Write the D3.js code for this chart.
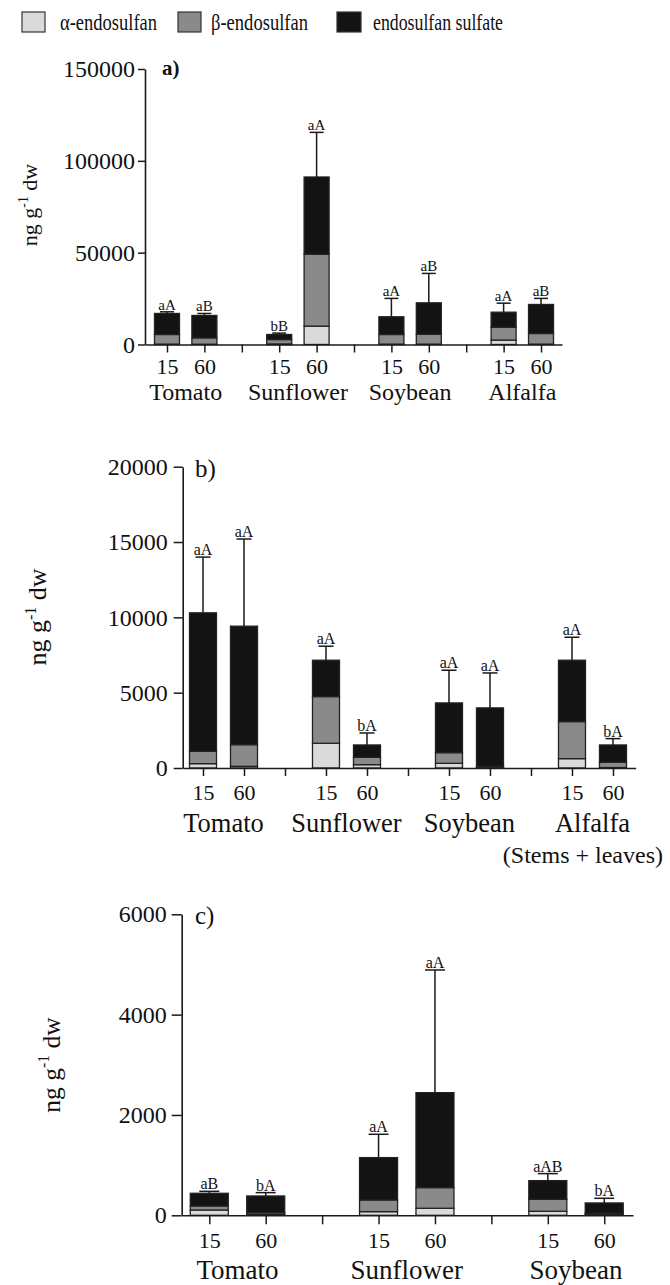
<!DOCTYPE html>
<html><head><meta charset="utf-8">
<script src="https://cdn.jsdelivr.net/npm/d3@7"></script>
<style>
body{margin:0;background:#fff}
svg{display:block}
text{font-family:"Liberation Serif","Times New Roman",serif;fill:#111}
</style>
</head><body>
<svg id="chart" width="670" height="1285"></svg>
<script>
// ---------- data ----------
const seriesKeys = ["alpha", "beta", "sulfate"];
const seriesLabels = ["α-endosulfan", "β-endosulfan", "endosulfan sulfate"];
const seriesColors = ["#dadada", "#8a8a8a", "#131313"];
const days = ["15", "60"];

// Panel a
const categoriesA = ["Tomato", "Sunflower", "Soybean", "Alfalfa"];
const alphaA   = [200, 150, 300, 10000, 200, 200, 2400, 200];
const betaA    = [5250, 3450, 2400, 39200, 5250, 5400, 7000, 5800];
const sulfateA = [11450, 12200, 2750, 42000, 9650, 17100, 8200, 15800];
const sdA      = [900, 1100, 750, 24300, 10000, 16000, 4900, 3300];
const lettersA = ["aA", "aB", "bB", "aA", "aA", "aB", "aA", "aB"];
const yTicksA  = [0, 50000, 100000, 150000];

// Panel b
const categoriesB = ["Tomato", "Sunflower", "Soybean", "Alfalfa"];
const alphaB   = [288, 110, 1640, 220, 310, 50, 620, 30];
const betaB    = [820, 1440, 3100, 490, 710, 60, 2460, 346];
const sulfateB = [9192, 7864, 2415, 820, 3300, 3880, 4075, 1154];
const sdB      = [3700, 5786, 930, 795, 2170, 2320, 1525, 420];
const lettersB = ["aA", "aA", "aA", "bA", "aA", "aA", "aA", "bA"];
const yTicksB  = [0, 5000, 10000, 15000, 20000];

// Panel c
const categoriesC = ["Tomato", "Sunflower", "Soybean"];
const alphaC   = [106, 20, 73, 140, 80, 27];
const betaC    = [80, 33, 233, 412, 239, 13];
const sulfateC = [253, 332, 844, 1893, 372, 206];
const sdC      = [39, 67, 465, 2445, 140, 93];
const lettersC = ["aB", "bA", "aA", "aA", "aAB", "bA"];
const yTicksC  = [0, 2000, 4000, 6000];

const panelLabels = ["a)", "b)", "c)"];
const yAxisTitle = "ng g";
const yAxisSup = "-1";
const yAxisTail = " dw";
const noteB = "(Stems + leaves)";

// ---------- drawing ----------
const svg = d3.select("#chart");
const ink = "#1a1a1a";

// legend
const legendLayout = [
  {bx: 22, tx: 60, tw: 97, bw: 23},
  {bx: 178, tx: 211, tw: 97, bw: 23},
  {bx: 337, tx: 373, tw: 130, bw: 24}
];
const lg = svg.append("g");
seriesLabels.forEach((lab, i) => {
  const L = legendLayout[i];
  lg.append("rect").attr("x", L.bx).attr("y", 12).attr("width", L.bw).attr("height", 20)
    .attr("fill", seriesColors[i]).attr("stroke", "#333").attr("stroke-width", 1.2);
  lg.append("text").attr("x", L.tx).attr("y", 30).attr("font-size", 24)
    .attr("textLength", L.tw).attr("lengthAdjust", "spacingAndGlyphs").text(lab);
});

function drawPanel(cfg) {
  const {cats, alpha, beta, sulfate, sd, letters, yTicks, yMax, L, label} = cfg;
  const rows = [];
  cats.forEach((c, gi) => days.forEach((d, di) => {
    const k = gi * 2 + di;
    rows.push({cat: c, day: d, slot: gi * 3 + di, alpha: alpha[k], beta: beta[k],
      sulfate: sulfate[k], sd: sd[k], letter: letters[k]});
  }));
  const nSlots = cats.length * 3 - 1;
  const x = d3.scaleLinear().domain([-L.padL, nSlots - 1 + L.padR]).range([L.left, L.right]);
  const y = d3.scaleLinear().domain([0, yMax]).range([L.bottom, L.top]);
  const g = svg.append("g");

  const stacked = d3.stack().keys(seriesKeys)(rows);
  stacked.forEach((layer, li) => {
    g.append("g").selectAll("rect").data(layer).join("rect")
      .attr("x", d => x(d.data.slot) - L.barW / 2)
      .attr("y", d => y(d[1]))
      .attr("width", L.barW)
      .attr("height", d => Math.max(0, y(d[0]) - y(d[1])))
      .attr("fill", seriesColors[li])
      .attr("stroke", "#222").attr("stroke-width", 1.3);
  });

  // error bars
  const total = d => d.alpha + d.beta + d.sulfate;
  const eg = g.append("g").attr("stroke", ink).attr("stroke-width", 1.5);
  eg.selectAll("line.v").data(rows).join("line").attr("class", "v")
    .attr("x1", d => x(d.slot)).attr("x2", d => x(d.slot))
    .attr("y1", d => y(total(d))).attr("y2", d => y(total(d) + d.sd));
  eg.selectAll("line.c").data(rows).join("line").attr("class", "c")
    .attr("x1", d => x(d.slot) - L.capW / 2).attr("x2", d => x(d.slot) + L.capW / 2)
    .attr("y1", d => y(total(d) + d.sd)).attr("y2", d => y(total(d) + d.sd));
  g.append("g").selectAll("text").data(rows).join("text")
    .attr("x", d => x(d.slot)).attr("y", d => y(total(d) + d.sd) - 2)
    .attr("text-anchor", "middle").attr("font-size", L.letFs).text(d => d.letter);

  // axes
  const ya = g.append("g").attr("transform", `translate(${L.left},0)`)
    .call(d3.axisLeft(y).tickValues(yTicks).tickSize(L.yTick).tickPadding(L.yPad)
      .tickSizeOuter(0).tickFormat(d3.format("d")));
  const xa = g.append("g").attr("transform", `translate(0,${L.bottom})`)
    .call(d3.axisBottom(x).tickValues(d3.range(nSlots)).tickSize(L.xTick).tickPadding(L.xPad)
      .tickSizeOuter(0).tickFormat(i => i % 3 === 2 ? "" : days[i % 3]));
  [ya, xa].forEach(a => {
    a.select(".domain").attr("stroke", ink).attr("stroke-width", 1.6);
    a.selectAll(".tick line").attr("stroke", ink).attr("stroke-width", 1.5);
    a.selectAll("text").attr("font-family", "Liberation Serif, serif").attr("fill", "#111");
  });
  ya.selectAll("text").attr("font-size", L.yFs);
  xa.selectAll("text").attr("font-size", L.xFs);

  // category labels
  g.append("g").selectAll("text").data(cats).join("text")
    .attr("x", (c, gi) => (x(gi * 3) + x(gi * 3 + 1)) / 2)
    .attr("y", L.catY).attr("text-anchor", "middle").attr("font-size", L.catFs).text(c => c);

  // y title
  const yt = g.append("text")
    .attr("transform", `translate(${L.titleX},${L.titleY}) rotate(-90)`)
    .attr("text-anchor", "middle").attr("font-size", L.titleFs);
  yt.append("tspan").text(yAxisTitle);
  yt.append("tspan").attr("dy", -L.titleFs * 0.4).attr("font-size", L.titleFs * 0.62).text(yAxisSup);
  yt.append("tspan").attr("dy", L.titleFs * 0.4).text(yAxisTail);

  // panel label
  g.append("text").attr("x", L.labX).attr("y", L.labY).attr("font-size", L.labFs)
    .attr("font-weight", L.labBold ? "bold" : "normal").text(label);
  return {x, y};
}

drawPanel({cats: categoriesA, alpha: alphaA, beta: betaA, sulfate: sulfateA, sd: sdA,
  letters: lettersA, yTicks: yTicksA, yMax: 150000, label: panelLabels[0],
  L: {left: 145, right: 562, top: 69, bottom: 344.5, padL: 0.588, padR: 0.561,
    barW: 25, capW: 14, letFs: 15, yTick: 7, yPad: 3, xTick: 8, xPad: 6,
    yFs: 24, xFs: 22, catY: 400, catFs: 24, titleX: 37, titleY: 205, titleFs: 22,
    labX: 162, labY: 75, labFs: 21, labBold: true}});

drawPanel({cats: categoriesB, alpha: alphaB, beta: betaB, sulfate: sulfateB, sd: sdB,
  letters: lettersB, yTicks: yTicksB, yMax: 20000, label: panelLabels[1],
  L: {left: 182.7, right: 635.7, top: 466.7, bottom: 768, padL: 0.495, padR: 0.554,
    barW: 27, capW: 15, letFs: 16, yTick: 9, yPad: 6, xTick: 8, xPad: 8,
    yFs: 24, xFs: 22, catY: 832, catFs: 26.5, titleX: 46, titleY: 617, titleFs: 26,
    labX: 195, labY: 477, labFs: 25, labBold: false}});

svg.append("text").attr("x", 663).attr("y", 863).attr("text-anchor", "end")
  .attr("font-size", 24).text(noteB);

drawPanel({cats: categoriesC, alpha: alphaC, beta: betaC, sulfate: sulfateC, sd: sdC,
  letters: lettersC, yTicks: yTicksC, yMax: 6000, label: panelLabels[2],
  L: {left: 181.7, right: 633, top: 914.3, bottom: 1215.3, padL: 0.489, padR: 0.51,
    barW: 38, capW: 20, letFs: 16, yTick: 10, yPad: 5, xTick: 9, xPad: 8,
    yFs: 24, xFs: 22, catY: 1279, catFs: 27, titleX: 59.5, titleY: 1065, titleFs: 25.5,
    labX: 195, labY: 924, labFs: 25, labBold: false}});
</script>
</body></html>
